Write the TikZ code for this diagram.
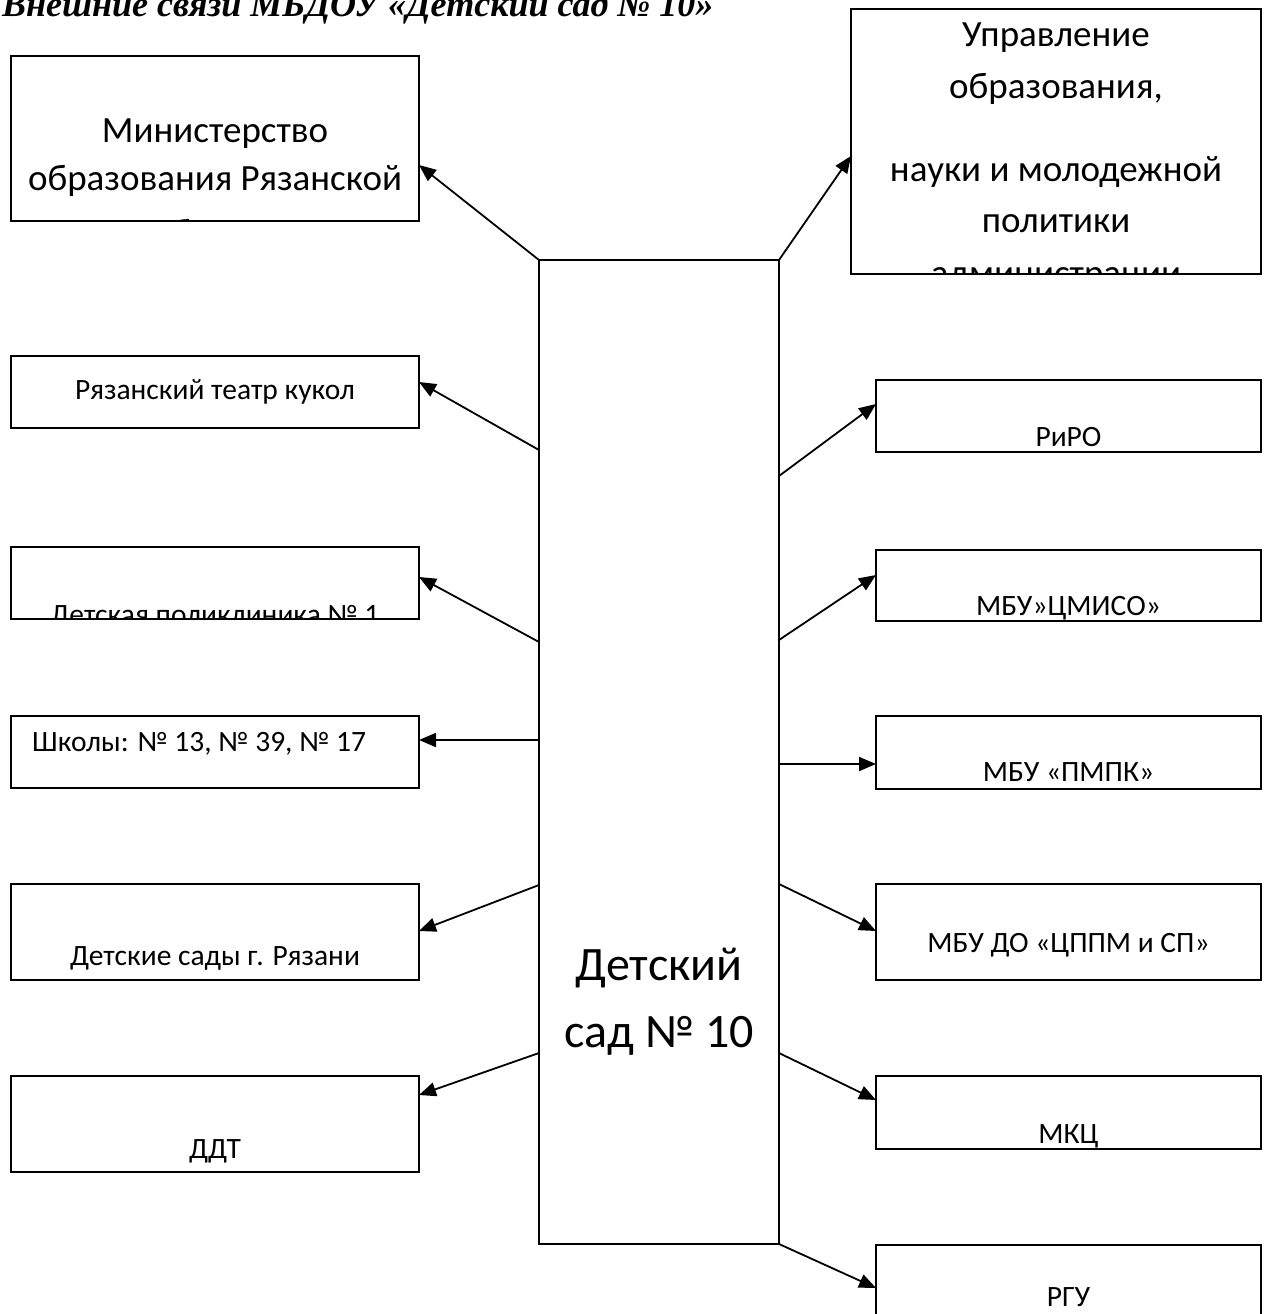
\documentclass[tikz,border=0pt]{standalone}
\usepackage{fontspec}
\setmainfont{Carlito}
\newfontfamily\titlefont{Liberation Serif}
\usetikzlibrary{arrows.meta}
\begin{document}
\begin{tikzpicture}[x=1pt,y=-1pt,
  box/.style={draw, line width=2.2pt, inner sep=0pt, outer sep=0pt, anchor=north west},
  arr/.style={line width=1.8pt, -{Triangle[length=17pt,width=14pt]}},
  bigtxt/.style={font=\fontsize{37}{41}\selectfont, anchor=base, inner sep=0pt},
  smalltxt/.style={font=\fontsize{29.5}{33}\selectfont, anchor=base, inner sep=0pt},
  ctrtxt/.style={font=\fontsize{48}{52}\selectfont, anchor=base, inner sep=0pt},
]
\clip (0,0) rectangle (1264,1314);
\fill[white] (0,0) rectangle (1264,1314);

% title
\node[anchor=base west, inner sep=0pt, font=\titlefont\bfseries\itshape\fontsize{36}{40}\selectfont] (title) at (2,17) {Внешние связи МБДОУ «Детский сад № 10»};

% boxes
\node[box, minimum width=240pt, minimum height=984pt] (ctr) at (539,260) {};
\node[box, minimum width=408pt, minimum height=165pt] (min) at (11,56) {};
\node[box, minimum width=410pt, minimum height=265pt] (upr) at (851,9) {};
\node[box, minimum width=408pt, minimum height=72pt] (teatr) at (11,356) {};
\node[box, minimum width=408pt, minimum height=72pt] (polik) at (11,547) {};
\node[box, minimum width=408pt, minimum height=72pt] (shkol) at (11,716) {};
\node[box, minimum width=408pt, minimum height=96pt] (sady) at (11,884) {};
\node[box, minimum width=408pt, minimum height=96pt] (ddt) at (11,1076) {};
\node[box, minimum width=385pt, minimum height=72pt] (riro) at (876,380) {};
\node[box, minimum width=385pt, minimum height=71pt] (cmiso) at (876,550) {};
\node[box, minimum width=385pt, minimum height=73pt] (pmpk) at (876,716) {};
\node[box, minimum width=385pt, minimum height=96pt] (cppm) at (876,884) {};
\node[box, minimum width=385pt, minimum height=73pt] (mkc) at (876,1076) {};
\node[box, minimum width=385pt, minimum height=120pt] (rgu) at (876,1245) {};

% texts (clipped to their boxes)
\begin{scope}
\clip (min.north west) rectangle (min.south east);
\node[bigtxt] (minA) at (215,142) {Министерство};
\node[bigtxt] (minB) at (215,190) {образования Рязанской};
\node[bigtxt] (minC) at (215,244) {области};
\end{scope}
\begin{scope}
\clip (upr.north west) rectangle (upr.south east);
\node[bigtxt] (uprA) at (1056,47) {Управление};
\node[bigtxt] (uprB) at (1056,98) {образования,};
\node[bigtxt] (uprC) at (1056,181) {науки и молодежной};
\node[bigtxt] (uprD) at (1056,232) {политики};
\node[bigtxt] (uprE) at (1056,285) {администрации};
\end{scope}
\node[ctrtxt] (ctrA) at (659,980) {Детский};
\node[ctrtxt] (ctrB) at (659,1047) {сад № 10};
\node[smalltxt] (teatrT) at (215,399) {Рязанский театр кукол};
\begin{scope}
\clip (polik.north west) rectangle (polik.south east);
\node[smalltxt] (polikT) at (215,624) {Детская поликлиника № 1};
\end{scope}
\node[smalltxt, anchor=base west] (shkolT) at (32,751) {Школы: № 13, № 39, № 17};
\node[smalltxt] (sadyT) at (215,965) {Детские сады г. Рязани};
\node[smalltxt] (ddtT) at (215,1158) {ДДТ};
\node[smalltxt] (riroT) at (1068.5,446) {РиРО};
\node[smalltxt] (cmisoT) at (1068.5,615) {МБУ»ЦМИСО»};
\node[smalltxt] (pmpkT) at (1068.5,781) {МБУ «ПМПК»};
\node[smalltxt] (cppmT) at (1068.5,952) {МБУ ДО «ЦППМ и СП»};
\node[smalltxt] (mkcT) at (1068.5,1143) {МКЦ};
\node[smalltxt] (rguT) at (1068.5,1306) {РГУ};

% connectors, left
\draw[arr] (ctr.north west) -- ([yshift=-109pt]min.north east);
\draw[arr] ([yshift=-190pt]ctr.north west) -- ([yshift=-26pt]teatr.north east);
\draw[arr] ([yshift=-382pt]ctr.north west) -- ([yshift=-30pt]polik.north east);
\draw[arr] ([yshift=-480pt]ctr.north west) -- ([yshift=-24pt]shkol.north east);
\draw[arr] ([yshift=-625pt]ctr.north west) -- ([yshift=-47pt]sady.north east);
\draw[arr] ([yshift=-793pt]ctr.north west) -- ([yshift=-19pt]ddt.north east);
% connectors, right
\draw[arr] (ctr.north east) -- ([yshift=-147pt]upr.north west);
\draw[arr] ([yshift=-216pt]ctr.north east) -- ([yshift=-24pt]riro.north west);
\draw[arr] ([yshift=-380pt]ctr.north east) -- ([yshift=-25pt]cmiso.north west);
\draw[arr] ([yshift=-504pt]ctr.north east) -- ([yshift=-48pt]pmpk.north west);
\draw[arr] ([yshift=-624pt]ctr.north east) -- ([yshift=-47pt]cppm.north west);
\draw[arr] ([yshift=-793pt]ctr.north east) -- ([yshift=-24pt]mkc.north west);
\draw[arr] (ctr.south east) -- ([yshift=-43pt]rgu.north west);
\end{tikzpicture}
\end{document}
